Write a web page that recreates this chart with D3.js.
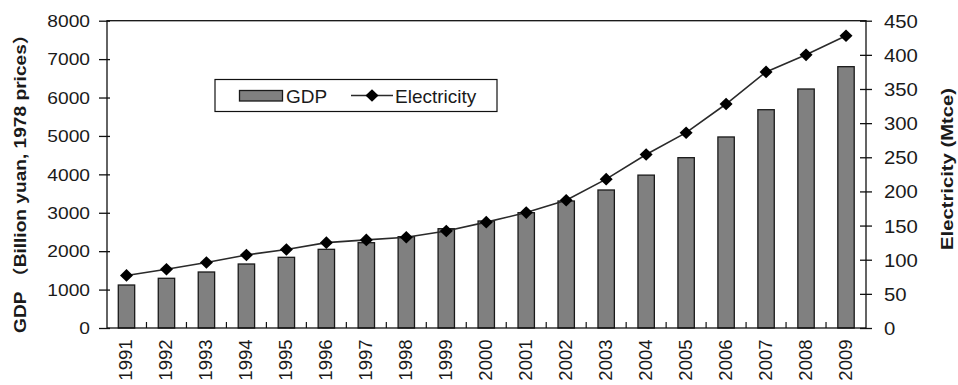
<!DOCTYPE html>
<html>
<head>
<meta charset="utf-8">
<script src="https://cdn.jsdelivr.net/npm/d3@7/dist/d3.min.js"></script>
<style>
  body { margin: 0; background: #fff; }
  svg { display: block; }
  text { font-family: "Liberation Sans", Arial, "Noto Sans CJK SC", sans-serif; fill: #1a1a1a; }
</style>
</head>
<body>
<script>
// China: GDP (billion yuan, 1978 prices) and electricity (Mtce), 1991-2009
const years = ["1991","1992","1993","1994","1995","1996","1997","1998","1999","2000",
               "2001","2002","2003","2004","2005","2006","2007","2008","2009"];
const gdp = [1119, 1294, 1458, 1666, 1840, 2048, 2221, 2377, 2585, 2786,
             3002, 3306, 3593, 3980, 4434, 4973, 5683, 6222, 6803];
const electricity = [77, 86, 96, 107, 115, 125, 129, 133, 142, 155,
                     169, 187, 218, 254, 286, 328, 375, 400, 428];
const gdpTicks = [0, 1000, 2000, 3000, 4000, 5000, 6000, 7000, 8000];
const elecTicks = [0, 50, 100, 150, 200, 250, 300, 350, 400, 450];
const seriesNames = ["GDP", "Electricity"];
const leftTitle = "GDP （Billion yuan, 1978 prices）";
const rightTitle = "Electricity (Mtce)";

const W = 958, H = 385;
const plot = { left: 107, right: 866, top: 20.7, bottom: 328 };
const ink = "#111";

const svg = d3.select("body").append("svg").attr("width", W).attr("height", H);

const x = d3.scaleBand().domain(years)
  .range([106.5, plot.right]).paddingInner(0.59).paddingOuter(0.295);
const step = x.step();
const cx = d => x(d) + x.bandwidth() / 2;
const yL = d3.scaleLinear().domain([0, 8000]).range([plot.bottom, plot.top]);
const yR = d3.scaleLinear().domain([0, 450]).range([plot.bottom, plot.top]);

// bars
svg.append("g").selectAll("rect").data(years).join("rect")
  .attr("x", d => x(d))
  .attr("width", x.bandwidth())
  .attr("y", (d, i) => yL(gdp[i]))
  .attr("height", (d, i) => yL(0) - yL(gdp[i]))
  .attr("fill", "#808080")
  .attr("stroke", "#1a1a1a")
  .attr("stroke-width", 1.3);

// plot frame
svg.append("rect")
  .attr("x", plot.left).attr("y", plot.top)
  .attr("width", plot.right - plot.left).attr("height", plot.bottom - plot.top)
  .attr("fill", "none").attr("stroke", ink).attr("stroke-width", 1.3);

// left axis
const gL = svg.append("g").attr("transform", `translate(${plot.left},0)`)
  .call(d3.axisLeft(yL).tickValues(gdpTicks).tickSize(8).tickFormat(d3.format("d")));
gL.select(".domain").remove();
gL.selectAll(".tick line").attr("x1", 3).attr("stroke", ink).attr("stroke-width", 1.3);
gL.selectAll(".tick text")
  .attr("x", null).attr("dy", "0.36em")
  .attr("transform", "translate(-17,0) scale(1.2,1)")
  .style("font-size", "16px").attr("fill", "#1a1a1a");

// right axis
const gR = svg.append("g").attr("transform", `translate(${plot.right},0)`)
  .call(d3.axisRight(yR).tickValues(elecTicks).tickSize(6).tickFormat(d3.format("d")));
gR.select(".domain").remove();
gR.selectAll(".tick line").attr("x1", -6).attr("stroke", ink).attr("stroke-width", 1.3);
gR.selectAll(".tick text")
  .attr("x", null).attr("dy", "0.36em")
  .attr("transform", "translate(18,0) scale(1.13,1)")
  .style("font-size", "18px").attr("fill", "#1a1a1a");

// bottom axis labels, rotated
const gB = svg.append("g").attr("transform", `translate(0,${plot.bottom})`)
  .call(d3.axisBottom(x).tickSize(0));
gB.select(".domain").remove();
gB.selectAll(".tick text")
  .attr("y", null).attr("x", null).attr("dy", "0.36em")
  .attr("text-anchor", "end")
  .attr("transform", "translate(-1,11.5) rotate(-90)")
  .style("font-size", "18.5px").attr("fill", "#1a1a1a");

// category boundary ticks on the x axis
svg.append("g").selectAll("line").data(years.slice(1)).join("line")
  .attr("x1", d => cx(d) - step / 2).attr("x2", d => cx(d) - step / 2)
  .attr("y1", plot.bottom).attr("y2", plot.bottom - 6)
  .attr("stroke", ink).attr("stroke-width", 1.2);

// electricity line with diamond markers
const diamond = "M0,-6.3L6.5,0L0,6.3L-6.5,0Z";
svg.append("path")
  .datum(electricity)
  .attr("d", d3.line().x((d, i) => cx(years[i])).y(d => yR(d)))
  .attr("fill", "none").attr("stroke", "#2a2a2a").attr("stroke-width", 1.6);
svg.append("g").selectAll("path").data(electricity).join("path")
  .attr("d", diamond)
  .attr("transform", (d, i) => `translate(${cx(years[i])},${yR(d)})`)
  .attr("fill", "#000");

// legend
const lg = svg.append("g");
lg.append("rect").attr("x", 215).attr("y", 79.5).attr("width", 282).attr("height", 32)
  .attr("fill", "#fff").attr("stroke", ink).attr("stroke-width", 1.2);
lg.append("rect").attr("x", 239.5).attr("y", 90.5).attr("width", 43).attr("height", 10.5)
  .attr("fill", "#808080").attr("stroke", "#1a1a1a").attr("stroke-width", 1.3);
lg.append("text").attr("x", 286).attr("y", 102.5).style("font-size", "19px").text(seriesNames[0]);
lg.append("line").attr("x1", 351).attr("x2", 393).attr("y1", 95.5).attr("y2", 95.5)
  .attr("stroke", "#2a2a2a").attr("stroke-width", 1.6);
lg.append("path").attr("d", diamond).attr("transform", "translate(372,95.5)").attr("fill", "#000");
lg.append("text").attr("x", 395).attr("y", 102.5).style("font-size", "19px").text(seriesNames[1]);

// axis titles, stretched along their length to the space they fill
function axisTitle(str, tx, ty, span) {
  const t = svg.append("text")
    .attr("text-anchor", "middle")
    .style("font-size", "16px").style("font-weight", "bold")
    .text(str);
  const k = span / t.node().getComputedTextLength();
  t.attr("transform", `translate(${tx},${ty}) rotate(-90) scale(${k},1)`);
}
axisTitle(leftTitle, 26, 179, 308);
axisTitle(rightTitle, 953, 169, 162);
</script>
</body>
</html>
